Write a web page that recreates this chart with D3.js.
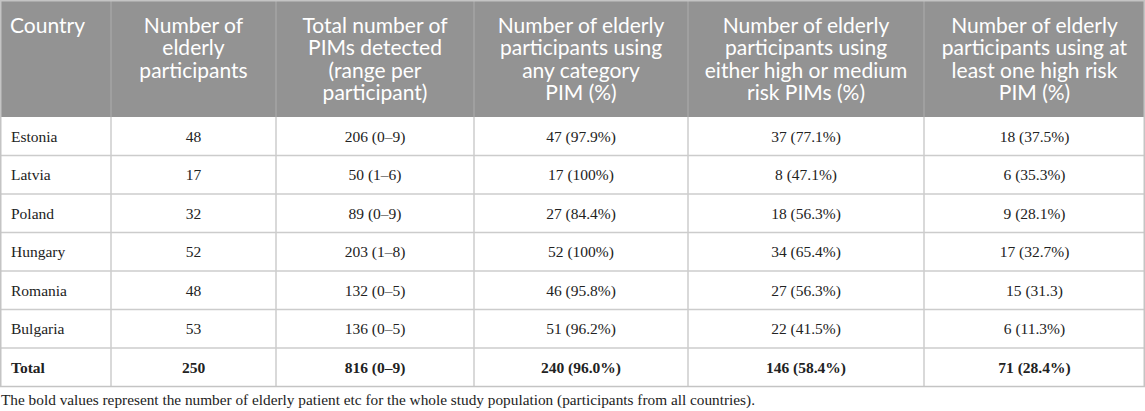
<!DOCTYPE html>
<html>
<head>
<meta charset="utf-8">
<script src="https://cdn.jsdelivr.net/npm/d3@7"></script>
<style>
  html, body { margin: 0; padding: 0; background: #fff; }
  svg { display: block; }
</style>
</head>
<body>
<svg id="chart" width="1145" height="411"></svg>
<script>
// ---- Data ----
const headers = [
  ["Country"],
  ["Number of", "elderly", "participants"],
  ["Total number of", "PIMs detected", "(range per", "participant)"],
  ["Number of elderly", "participants using", "any category", "PIM (%)"],
  ["Number of elderly", "participants using", "either high or medium", "risk PIMs (%)"],
  ["Number of elderly", "participants using at", "least one high risk", "PIM (%)"]
];
const countries = ["Estonia", "Latvia", "Poland", "Hungary", "Romania", "Bulgaria"];
const participants = [48, 17, 32, 52, 48, 53];
const pimCounts = [206, 50, 89, 203, 132, 136];
const pimRanges = ["0–9", "1–6", "0–9", "1–8", "0–5", "0–5"];
const anyPimN = [47, 17, 27, 52, 46, 51];
const anyPimPct = ["97.9%", "100%", "84.4%", "100%", "95.8%", "96.2%"];
const highMedN = [37, 8, 18, 34, 27, 22];
const highMedPct = ["77.1%", "47.1%", "56.3%", "65.4%", "56.3%", "41.5%"];
const highN = [18, 6, 9, 17, 15, 6];
const highPct = ["37.5%", "35.3%", "28.1%", "32.7%", "31.3", "11.3%"];
const totalRow = ["Total", "250", "816 (0–9)", "240 (96.0%)", "146 (58.4%)", "71 (28.4%)"];
const footnote = "The bold values represent the number of elderly patient etc for the whole study population (participants from all countries).";

// ---- Build table rows ----
const rows = countries.map((c, i) => ({
  bold: false,
  cells: [c, String(participants[i]), `${pimCounts[i]} (${pimRanges[i]})`,
          `${anyPimN[i]} (${anyPimPct[i]})`, `${highMedN[i]} (${highMedPct[i]})`,
          `${highN[i]} (${highPct[i]})`]
}));
rows.push({ bold: true, cells: totalRow });

// ---- Layout ----
const W = 1145;
const colWidths = [111, 165, 198, 214, 236, 221];
const colEdges = [0, ...Array.from(d3.cumsum(colWidths))];
const headerH = 117;
const tableBottom = 386.5;

const x0 = d3.scaleOrdinal().domain(d3.range(6)).range(colEdges.slice(0, 6));
const xw = d3.scaleOrdinal().domain(d3.range(6)).range(colWidths);
const y = d3.scaleBand().domain(d3.range(rows.length)).range([headerH, tableBottom]);

const svg = d3.select("#chart");
const headerFont = "Lato, 'Open Sans', sans-serif";
const bodyFont = "'Liberation Serif', 'Times New Roman', serif";

// header background
svg.append("rect").attr("x", 0).attr("y", 0).attr("width", W).attr("height", headerH)
  .attr("fill", "#939393");

// header vertical separators
svg.append("g").selectAll("line").data(colEdges.slice(1, 6)).join("line")
  .attr("x1", d => d).attr("x2", d => d).attr("y1", 0).attr("y2", headerH)
  .attr("stroke", "#a5a5a5").attr("stroke-width", 1.5);

// header text
const hg = svg.append("g");
headers.forEach((lines, ci) => {
  const t = hg.append("text")
    .attr("font-family", headerFont)
    .attr("font-size", 21)
    .attr("fill", "#ffffff")
    .attr("text-anchor", ci === 0 ? "start" : "middle");
  lines.forEach((ln, li) => {
    t.append("tspan")
      .attr("x", ci === 0 ? x0(ci) + 10 : x0(ci) + xw(ci) / 2)
      .attr("y", 33 + li * 22.3)
      .text(ln);
  });
});

// body grid: horizontal lines
svg.append("g").selectAll("line").data(d3.range(1, rows.length)).join("line")
  .attr("x1", 0).attr("x2", W)
  .attr("y1", d => y(d)).attr("y2", d => y(d))
  .attr("stroke", "#cccccc").attr("stroke-width", 1.5);

// body vertical lines
svg.append("g").selectAll("line").data(colEdges.slice(1, 6)).join("line")
  .attr("x1", d => d).attr("x2", d => d).attr("y1", headerH).attr("y2", tableBottom)
  .attr("stroke", "#cccccc").attr("stroke-width", 1.5);

// outer border
svg.append("rect").attr("x", 0.75).attr("y", 0.75).attr("width", W - 1.5)
  .attr("height", tableBottom - 0.75)
  .attr("fill", "none").attr("stroke", "#c4c4c4").attr("stroke-width", 1.5);

// body text
const bg = svg.append("g");
rows.forEach((r, ri) => {
  r.cells.forEach((txt, ci) => {
    bg.append("text")
      .attr("x", ci === 0 ? x0(ci) + 11 : x0(ci) + xw(ci) / 2)
      .attr("y", y(ri) + y.bandwidth() / 2 + 5.5)
      .attr("text-anchor", ci === 0 ? "start" : "middle")
      .attr("font-family", bodyFont)
      .attr("font-size", 15.5)
      .attr("font-weight", r.bold ? "bold" : "normal")
      .attr("fill", "#222222")
      .text(txt);
  });
});

// footnote
svg.append("text")
  .attr("x", 1).attr("y", 405)
  .attr("font-family", bodyFont)
  .attr("font-size", 15.3)
  .attr("fill", "#222222")
  .text(footnote);
</script>
</body>
</html>
